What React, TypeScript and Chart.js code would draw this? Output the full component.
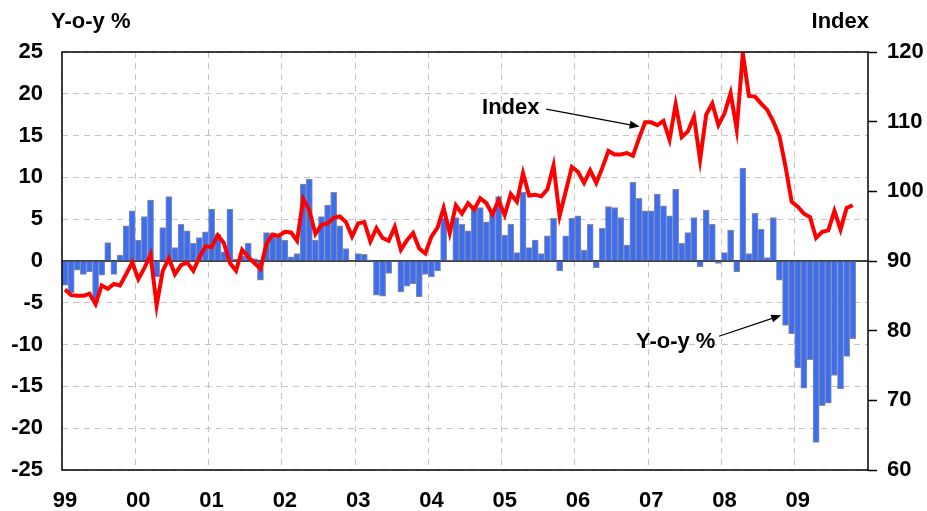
import React, { useEffect, useRef } from 'react';
import { Chart, registerables } from 'chart.js';

Chart.register(...registerables);

// ---- Data ----
const years = ['99', '00', '01', '02', '03', '04', '05', '06', '07', '08', '09'];
const months = ['Jan', 'Feb', 'Mar', 'Apr', 'May', 'Jun', 'Jul', 'Aug', 'Sep', 'Oct', 'Nov', 'Dec'];
const categories = years.flatMap((y) => months.map((m) => `${m} ${y}`));

// Year-on-year % change (bars, left axis), Jan 1999 - Oct 2009
const yoyPct = [
  -2.9, -3.8, -1.1, -1.6, -1.3, -4.8, -1.7, 2.2, -1.6, 0.7, 4.2, 6.0,
  2.5, 5.3, 7.3, -1.9, 4.0, 7.7, 1.6, 4.4, 3.6, 2.1, 2.8, 3.5,
  6.2, 3.2, 1.1, 6.2, 0.2, 0.6, 2.1, 0.3, -2.3, 3.4, 3.3, 2.9,
  2.5, 0.5, 0.9, 9.2, 9.8, 2.5, 5.3, 6.7, 8.2, 4.2, 1.5, -0.1,
  0.9, 0.8, 0.1, -4.1, -4.2, -1.5, -0.1, -3.7, -3.0, -2.75, -4.3, -1.6,
  -1.9, -1.2, 5.1, 0.1, 5.2, 4.4, 3.6, 6.6, 6.4, 4.7, 6.0, 7.7,
  3.1, 4.4, 1.0, 8.2, 1.6, 2.5, 0.9, 3.0, 5.1, -1.2, 3.0, 5.1,
  5.4, 1.3, 4.4, -0.8, 3.9, 6.5, 6.4, 5.2, 1.9, 9.4, 7.5, 6.0,
  6.0, 8.0, 6.6, 5.4, 8.6, 2.1, 3.4, 5.2, -0.7, 6.1, 4.4, -0.3,
  1.0, 3.7, -1.3, 11.1, 0.9, 5.7, 3.8, 0.4, 5.2, -2.3, -7.7, -8.7,
  -12.8, -15.2, -11.8, -21.7, -17.3, -17.0, -13.7, -15.3, -11.4, -9.3,
];

// Index level (line, right axis)
const indexValues = [
  85.9, 85.1, 85.0, 85.0, 85.3, 83.8, 86.5, 86.0, 86.7, 86.5, 88.1, 89.8,
  87.4, 89.0, 90.9, 83.6, 88.6, 90.4, 88.1, 89.4, 89.8, 88.6, 90.5, 92.1,
  92.0, 93.7, 92.6, 89.7, 88.6, 91.6, 90.6, 89.7, 88.9, 92.5, 93.8, 93.6,
  94.2, 94.1, 92.9, 98.9, 97.3, 93.9, 95.2, 95.4, 96.2, 96.4, 95.6, 93.5,
  95.4, 95.6, 92.8, 94.7, 93.3, 92.9, 94.9, 91.6, 93.0, 94.0, 91.8, 91.1,
  93.5, 94.8, 97.6, 94.0, 98.0, 96.8, 98.3, 97.4, 99.0, 98.3, 96.7, 98.7,
  96.6, 99.6, 98.5, 102.6, 99.4, 99.5, 99.3, 100.3, 103.7, 96.5, 100.0, 103.5,
  102.8, 101.2, 103.0, 101.2, 103.4, 105.8, 105.3, 105.3, 105.5, 105.1, 107.6, 109.9,
  109.9, 109.5, 110.1, 107.4, 112.5, 107.8, 108.6, 110.7, 104.5, 111.0, 112.6, 109.5,
  111.2, 114.1, 108.9, 119.8, 113.7, 113.6, 112.6, 111.7, 110.0, 107.9, 103.5, 98.5,
  97.8, 96.8, 96.3, 93.3, 94.2, 94.4, 97.2, 94.5, 97.6, 98.0,
];

const leftTitle = 'Y-o-y %';
const rightTitle = 'Index';
const indexLabel = 'Index';
const yoyLabel = 'Y-o-y %';

const FONT_FAMILY = '"Liberation Sans", Arial, Helvetica, sans-serif';
const GRID_COLOR = '#c4c4c4';

function drawArrow(ctx: CanvasRenderingContext2D, x1: number, y1: number, x2: number, y2: number) {
  const ang = Math.atan2(y2 - y1, x2 - x1);
  const len = 10;
  const hw = 4;
  ctx.save();
  ctx.strokeStyle = '#000';
  ctx.fillStyle = '#000';
  ctx.lineWidth = 1.2;
  ctx.beginPath();
  ctx.moveTo(x1, y1);
  ctx.lineTo(x2 - Math.cos(ang) * len * 0.8, y2 - Math.sin(ang) * len * 0.8);
  ctx.stroke();
  ctx.beginPath();
  ctx.moveTo(x2, y2);
  ctx.lineTo(x2 - Math.cos(ang) * len + Math.sin(ang) * hw, y2 - Math.sin(ang) * len - Math.cos(ang) * hw);
  ctx.lineTo(x2 - Math.cos(ang) * len - Math.sin(ang) * hw, y2 - Math.sin(ang) * len + Math.cos(ang) * hw);
  ctx.closePath();
  ctx.fill();
  ctx.restore();
}

const decorPlugin = {
  id: 'decor',
  beforeDatasetsDraw(chart: any) {
    const { ctx, chartArea, scales } = chart;
    const y0 = scales.y.getPixelForValue(0);
    ctx.save();
    ctx.strokeStyle = '#000';
    ctx.lineWidth = 1.5;
    ctx.beginPath();
    ctx.moveTo(chartArea.left, y0);
    ctx.lineTo(chartArea.right, y0);
    ctx.stroke();
    ctx.restore();
  },
  afterDatasetsDraw(chart: any) {
    const { ctx, chartArea } = chart;
    ctx.save();
    ctx.strokeStyle = '#000';
    ctx.lineWidth = 1.5;
    ctx.strokeRect(chartArea.left, chartArea.top, chartArea.right - chartArea.left, chartArea.bottom - chartArea.top);
    ctx.restore();
  },
  afterDraw(chart: any) {
    const { ctx, scales, chartArea } = chart;
    const x = scales.x;
    const yl = scales.y;
    const yr = scales.y1;
    ctx.save();
    ctx.fillStyle = '#000';
    ctx.font = `bold 22px ${FONT_FAMILY}`;
    ctx.textBaseline = 'alphabetic';
    ctx.textAlign = 'left';
    ctx.fillText(leftTitle, 51, 28);
    ctx.textAlign = 'right';
    ctx.fillText(rightTitle, chartArea.right + 1, 28);

    // "Index" annotation
    ctx.textAlign = 'center';
    ctx.textBaseline = 'middle';
    ctx.fillText(indexLabel, x.getPixelForValue(73.0), yr.getPixelForValue(112.0));
    drawArrow(ctx, x.getPixelForValue(78.8), yr.getPixelForValue(111.8), x.getPixelForValue(94.1), yr.getPixelForValue(109.3));

    // "Y-o-y %" annotation
    ctx.fillText(yoyLabel, x.getPixelForValue(100.0), yl.getPixelForValue(-9.7));
    drawArrow(ctx, x.getPixelForValue(107.1), yl.getPixelForValue(-9.0), x.getPixelForValue(117.3), yl.getPixelForValue(-6.5));
    ctx.restore();
  },
};

export default function App() {
  const canvasRef = useRef<HTMLCanvasElement | null>(null);

  useEffect(() => {
    const canvas = canvasRef.current;
    if (!canvas) return;
    const chart = new Chart(canvas, {
      type: 'bar',
      data: {
        labels: categories,
        datasets: [
          {
            type: 'line',
            label: 'Index',
            data: indexValues,
            yAxisID: 'y1',
            borderColor: '#ff0000',
            borderWidth: 4,
            pointRadius: 0,
            tension: 0,
            fill: false,
            order: 0,
          } as any,
          {
            type: 'bar',
            label: 'Y-o-y %',
            data: yoyPct,
            yAxisID: 'y',
            backgroundColor: '#3b6ef5',
            borderColor: '#8f8f8f',
            borderWidth: 1,
            barPercentage: 1,
            categoryPercentage: 1,
            order: 1,
          },
        ],
      },
      options: {
        responsive: false,
        animation: false,
        devicePixelRatio: 1,
        layout: { padding: { top: 52, left: 0, right: 0, bottom: 0 } },
        plugins: {
          legend: { display: false },
          tooltip: { enabled: false },
        },
        scales: {
          x: {
            type: 'category',
            offset: true,
            afterFit: (s: any) => { s.height = 41; },
            grid: {
              offset: true,
              drawTicks: false,
              color: (ctx: any) => (ctx.index % 12 === 0 ? GRID_COLOR : 'rgba(0,0,0,0)'),
              lineWidth: 1,
            },
            border: { display: false, dash: [6, 5] },
            ticks: {
              autoSkip: false,
              maxRotation: 0,
              minRotation: 0,
              padding: 18,
              color: '#000',
              font: { family: FONT_FAMILY, size: 22, weight: 'bold' },
              callback: (_v: any, i: number) => (i % 12 === 0 ? years[i / 12] : ''),
            },
          },
          y: {
            position: 'left',
            min: -25,
            max: 25,
            afterFit: (s: any) => { s.width = 62; },
            grid: {
              drawTicks: false,
              color: (ctx: any) => (ctx.tick && ctx.tick.value === 0 ? 'rgba(0,0,0,0)' : GRID_COLOR),
              lineWidth: 1,
            },
            border: { display: false, dash: [6, 5] },
            ticks: {
              stepSize: 5,
              padding: 19,
              color: '#000',
              font: { family: FONT_FAMILY, size: 22, weight: 'bold' },
            },
          },
          y1: {
            position: 'right',
            min: 60,
            max: 120,
            afterFit: (s: any) => { s.width = 59; },
            grid: {
              drawOnChartArea: false,
              drawTicks: true,
              tickLength: 9,
              tickColor: '#000',
              tickWidth: 1.5,
            },
            border: { display: false },
            ticks: {
              stepSize: 10,
              padding: 10,
              color: '#000',
              font: { family: FONT_FAMILY, size: 22, weight: 'bold' },
            },
          },
        },
      } as any,
      plugins: [decorPlugin],
    });
    return () => chart.destroy();
  }, []);

  return (
    <div style={{ position: 'fixed', left: 0, top: 0, width: 927, height: 511, background: '#fff' }}>
      <canvas ref={canvasRef} width={927} height={511} style={{ display: 'block' }} />
    </div>
  );
}
